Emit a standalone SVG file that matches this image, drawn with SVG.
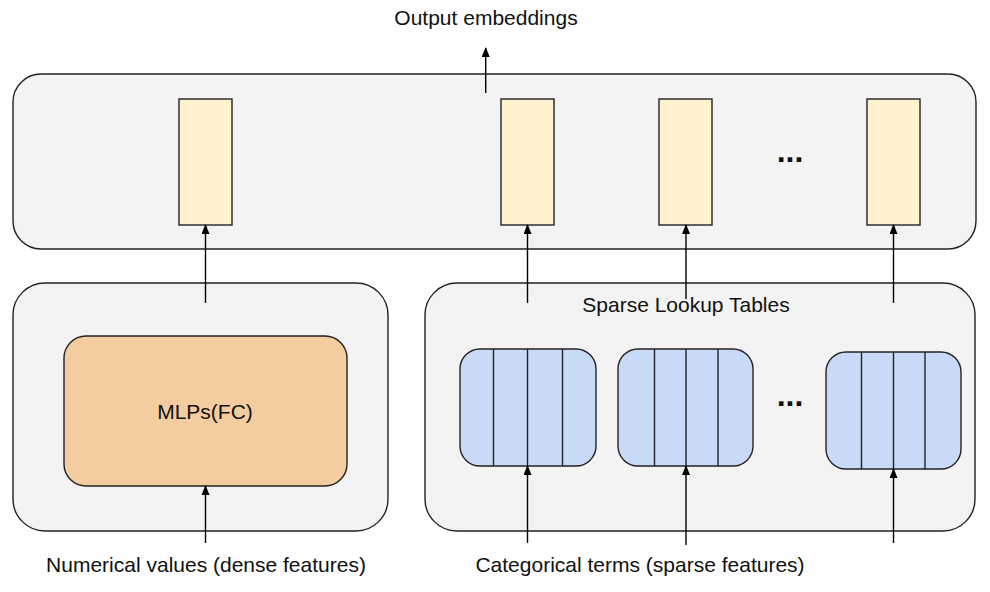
<svg xmlns="http://www.w3.org/2000/svg" width="990" height="592" viewBox="0 0 990 592">
<defs>
<marker id="ah" markerWidth="10" markerHeight="8" refX="9" refY="4" orient="auto" markerUnits="userSpaceOnUse" viewBox="0 0 10 8">
<path d="M0,0 L10,4 L0,8 Z" fill="#000"/>
</marker>
<style>
.cont{fill:#f3f3f3;stroke:#222;stroke-width:1.4}
.emb{fill:#fff2cc;stroke:#222;stroke-width:1.4}
.tbl{fill:#c9daf8;stroke:#222;stroke-width:1.4}
.div{stroke:#222;stroke-width:1.4}
.mlp{fill:#f3cda0;stroke:#222;stroke-width:1.4}
.lbl{font-family:"Liberation Sans",Arial,sans-serif;font-size:21px;fill:#111}
.dots{font-family:"Liberation Sans",Arial,sans-serif;font-size:32px;font-weight:bold;fill:#111}
.arr{stroke:#000;stroke-width:1.4;fill:none;marker-end:url(#ah)}
</style>
</defs>
<rect width="990" height="592" fill="#fff"/>

<g id="output-layer">
<rect class="cont" x="13" y="74" width="963" height="175" rx="28" ry="28"/>
</g>
<g id="emb1"><rect class="emb" x="179" y="99" width="53" height="126"/></g>
<g id="emb2"><rect class="emb" x="501" y="99" width="53" height="126"/></g>
<g id="emb3"><rect class="emb" x="659" y="99" width="53" height="126"/></g>
<g id="emb4"><rect class="emb" x="867" y="99" width="53" height="126"/></g>
<g id="emb-dots"><text class="dots" x="790" y="162" text-anchor="middle">...</text></g>

<g id="dense-layer">
<rect class="cont" x="13" y="283" width="375" height="248" rx="32" ry="32"/>
</g>
<g id="mlp">
<rect class="mlp" x="64" y="336" width="283" height="150" rx="22" ry="22"/>
<text class="lbl" x="205" y="419" text-anchor="middle">MLPs(FC)</text>
</g>

<g id="sparse-layer">
<rect class="cont" x="425" y="283" width="550" height="248" rx="32" ry="32"/>
<text class="lbl" x="686" y="312" text-anchor="middle">Sparse Lookup Tables</text>
</g>
<g id="table1">
<rect class="tbl" x="460" y="349" width="136" height="117" rx="20" ry="20"/>
<line class="div" x1="493.5" y1="349" x2="493.5" y2="466"/>
<line class="div" x1="527.5" y1="349" x2="527.5" y2="466"/>
<line class="div" x1="562.5" y1="349" x2="562.5" y2="466"/>
</g>
<g id="table2">
<rect class="tbl" x="618" y="349" width="135" height="117" rx="20" ry="20"/>
<line class="div" x1="654.5" y1="349" x2="654.5" y2="466"/>
<line class="div" x1="686" y1="349" x2="686" y2="466"/>
<line class="div" x1="718" y1="349" x2="718" y2="466"/>
</g>
<g id="table-dots"><text class="dots" x="790" y="406" text-anchor="middle">...</text></g>
<g id="table3">
<rect class="tbl" x="826" y="352" width="135" height="117" rx="20" ry="20"/>
<line class="div" x1="861.5" y1="352" x2="861.5" y2="469"/>
<line class="div" x1="893.5" y1="352" x2="893.5" y2="469"/>
<line class="div" x1="925" y1="352" x2="925" y2="469"/>
</g>

<g id="labels">
<text class="lbl" x="486" y="25" text-anchor="middle">Output embeddings</text>
<text class="lbl" x="206" y="572" text-anchor="middle">Numerical values (dense features)</text>
<text class="lbl" x="640" y="572" text-anchor="middle">Categorical terms (sparse features)</text>
</g>

<g id="connectors">
<line class="arr" x1="485.7" y1="93" x2="485.7" y2="48"/>
<line class="arr" x1="205.5" y1="303" x2="205.5" y2="225"/>
<line class="arr" x1="527.5" y1="303" x2="527.5" y2="225"/>
<line class="arr" x1="686" y1="299" x2="686" y2="225"/>
<line class="arr" x1="893.5" y1="303" x2="893.5" y2="225"/>
<line class="arr" x1="205.5" y1="543" x2="205.5" y2="486"/>
<line class="arr" x1="527.5" y1="543" x2="527.5" y2="466"/>
<line class="arr" x1="686" y1="545" x2="686" y2="466"/>
<line class="arr" x1="893.5" y1="543" x2="893.5" y2="469"/>
</g>
</svg>
